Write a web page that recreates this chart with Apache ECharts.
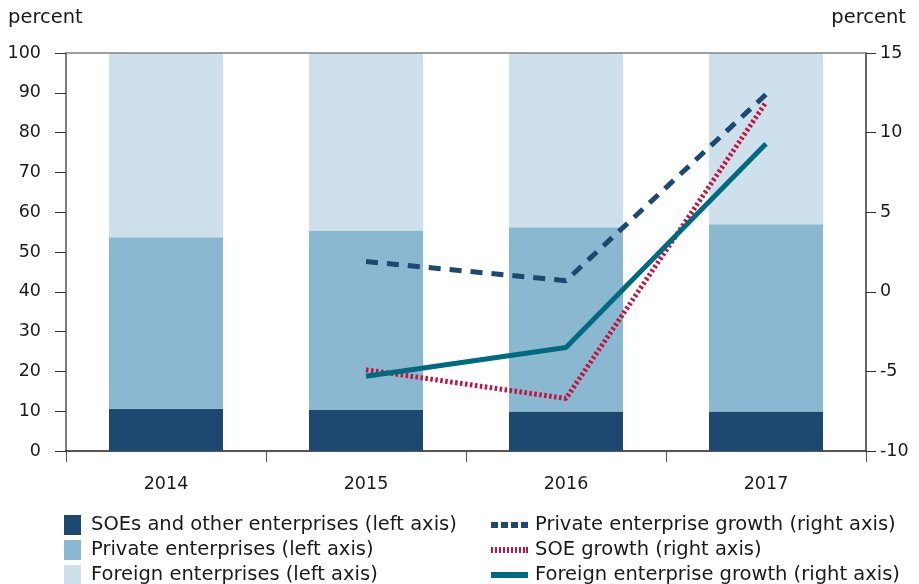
<!DOCTYPE html>
<html>
<head>
<meta charset="utf-8">
<script src="https://cdn.jsdelivr.net/npm/echarts@6/dist/echarts.min.js"></script>
<style>
  html, body { margin: 0; padding: 0; background: #fff; }
  #chart { width: 919px; height: 584px; }
</style>
</head>
<body>
<div id="chart"></div>
<script>
// Shares of enterprises (left axis, percent) and growth rates (right axis, percent)
const years = ['2014', '2015', '2016', '2017'];
const soeShare = [10.6, 10.3, 9.9, 9.9];
const privateShare = [43.1, 45.1, 46.3, 47.1];
const foreignShare = [46.3, 44.6, 43.8, 43.0];
const privateGrowth = [null, 1.9, 0.7, 12.4];
const soeGrowth = [null, -4.9, -6.7, 11.9];
const foreignGrowth = [null, -5.3, -3.5, 9.3];
const leftTicks = { min: 0, max: 100, interval: 10 };
const rightTicks = { min: -10, max: 15, interval: 5 };

const FONT = 'DejaVu Sans';
const AXIS_SIZE = 17.5;
const LEGEND_SIZE = 19.5;
const TEXT = '#1a1a1a';
const AXIS = '#555';

const names = {
  soe: 'SOEs and other enterprises (left axis)',
  pri: 'Private enterprises (left axis)',
  forg: 'Foreign enterprises (left axis)',
  priG: 'Private enterprise growth (right axis)',
  soeG: 'SOE growth (right axis)',
  forG: 'Foreign enterprise growth (right axis)'
};
const colors = {
  soe: '#1d4870', pri: '#8ab8d0', forg: '#cde0eb',
  priG: '#1d4870', soeG: '#c4113d', forG: '#006b80'
};

// legend glyphs for the growth lines: squares, thin ticks, solid bar
function rects(xs, w, h) {
  return 'path://' + xs.map(x => `M${x},0h${w}v${h}h-${w}z`).join(' ');
}
const iconDash = rects([0, 10, 20, 30], 7, 6);
const iconDot = rects([0, 4, 8, 12, 16, 20, 24, 28, 32, 35], 2, 6);
const iconSolid = rects([0], 37, 6);

const chart = echarts.init(document.getElementById('chart'));

const barBase = { type: 'bar', stack: 'share', barWidth: '57%', yAxisIndex: 0 };
const legendText = { color: TEXT, fontSize: LEGEND_SIZE, fontFamily: FONT };
const axisText = { color: TEXT, fontSize: AXIS_SIZE, fontFamily: FONT };

function boxLegend(name, top) {
  return {
    left: 64, top: top, padding: 0, itemWidth: 17, itemHeight: 20, icon: 'rect',
    textStyle: Object.assign({ padding: [0, 0, 0, 5] }, legendText),
    data: [name]
  };
}
function lineLegend(name, top, icon) {
  return {
    left: 491, top: top, padding: 0, itemWidth: 37, itemHeight: 6,
    textStyle: Object.assign({ padding: [0, 0, 0, 2] }, legendText),
    data: [{ name: name, icon: icon }]
  };
}

chart.setOption({
  animation: false,
  textStyle: { fontFamily: FONT },
  grid: { left: 66, right: 53, top: 53, bottom: 133 },
  graphic: [
    { type: 'text', left: 8, top: 8, style: { text: 'percent', font: LEGEND_SIZE + 'px "DejaVu Sans"', fill: TEXT } },
    { type: 'text', right: 13, top: 8, style: { text: 'percent', font: LEGEND_SIZE + 'px "DejaVu Sans"', fill: TEXT } }
  ],
  xAxis: [
    {
      type: 'category', data: years, position: 'bottom',
      axisLine: { onZero: false, lineStyle: { color: '#222', width: 1.5 } },
      axisTick: { show: true, length: 11, lineStyle: { color: AXIS } },
      axisLabel: Object.assign({ margin: 24 }, axisText)
    },
    {
      type: 'category', data: years, position: 'top', z: 10,
      axisLine: { onZero: false, lineStyle: { color: '#808080', width: 1.5 } },
      axisTick: { show: false }, axisLabel: { show: false }
    }
  ],
  yAxis: [
    {
      type: 'value', position: 'left',
      min: leftTicks.min, max: leftTicks.max, interval: leftTicks.interval,
      axisLine: { show: true, lineStyle: { color: AXIS, width: 1.5 } },
      axisTick: { show: true, length: 11, lineStyle: { color: '#333' } },
      axisLabel: Object.assign({ margin: 25 }, axisText),
      splitLine: { show: false }
    },
    {
      type: 'value', position: 'right',
      min: rightTicks.min, max: rightTicks.max, interval: rightTicks.interval,
      axisLine: { show: true, lineStyle: { color: '#333', width: 1.5 } },
      axisTick: { show: true, length: 10, lineStyle: { color: '#333' } },
      axisLabel: Object.assign({ margin: 14 }, axisText),
      splitLine: { show: false }
    }
  ],
  legend: [
    boxLegend(names.soe, 515),
    boxLegend(names.pri, 540),
    boxLegend(names.forg, 565),
    lineLegend(names.priG, 515, iconDash),
    lineLegend(names.soeG, 540, iconDot),
    lineLegend(names.forG, 565, iconSolid)
  ],
  series: [
    Object.assign({}, barBase, { name: names.soe, data: soeShare, itemStyle: { color: colors.soe } }),
    Object.assign({}, barBase, { name: names.pri, data: privateShare, itemStyle: { color: colors.pri } }),
    Object.assign({}, barBase, { name: names.forg, data: foreignShare, itemStyle: { color: colors.forg } }),
    {
      name: names.priG, type: 'line', yAxisIndex: 1, data: privateGrowth,
      symbol: 'none', z: 5,
      lineStyle: { color: colors.priG, width: 5, type: [12, 9] },
      itemStyle: { color: colors.priG }
    },
    {
      name: names.soeG, type: 'line', yAxisIndex: 1, data: soeGrowth,
      symbol: 'none', z: 5,
      lineStyle: { color: colors.soeG, width: 5, type: [2.5, 2.5] },
      itemStyle: { color: colors.soeG }
    },
    {
      name: names.forG, type: 'line', yAxisIndex: 1, data: foreignGrowth,
      symbol: 'none', z: 6,
      lineStyle: { color: colors.forG, width: 5 },
      itemStyle: { color: colors.forG }
    }
  ]
});
</script>
</body>
</html>
